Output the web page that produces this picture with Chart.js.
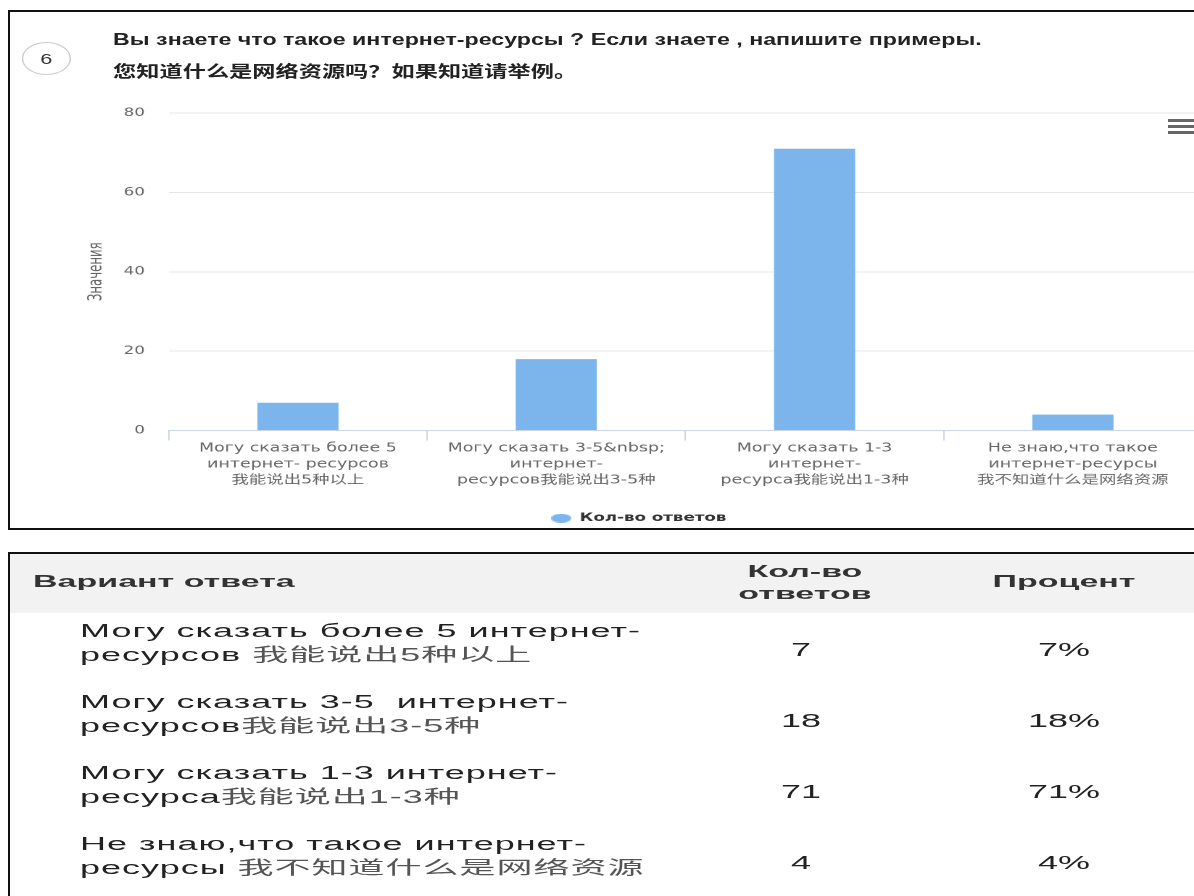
<!DOCTYPE html>
<html>
<head>
<meta charset="utf-8">
<script src="https://cdn.jsdelivr.net/npm/chart.js@4.4.1/dist/chart.umd.min.js"></script>
<style>
html, body { margin: 0; padding: 0; background: #fff; width: 1194px; height: 896px; overflow: hidden; }
.panel { position: absolute; left: 8px; width: 1200px; border: 2px solid #111; z-index: 5; }
#panel1 { top: 10px; height: 516px; }
#panel2 { top: 552px; height: 400px; }
#headBg { position: absolute; left: 10px; top: 554px; width: 1190px; height: 59px; background: #f2f2f2; }
#menu { position: absolute; left: 1168px; top: 119px; width: 30px; }
#menu div { height: 3px; background: #666; margin-bottom: 3px; }
.wrap { position: absolute; left: 0; top: 0; transform-origin: 0 0; }
#wrap1 { width: 830px; height: 540px; transform: scaleX(1.45); }
#wrap2 { width: 600px; height: 896px; transform: scaleX(2); font-family: "Liberation Sans", Arial, "Noto Sans CJK SC", sans-serif; color: #222; }
#num { position: absolute; left: 15px; top: 42px; width: 34px; height: 33px; box-sizing: border-box; border: 1px solid #ccc; border-radius: 50%;
       font: 15px "Liberation Sans", Arial, sans-serif; text-align: center; line-height: 31px; color: #333; }
#question { position: absolute; left: 78px; top: 24px; font: bold 16px "Liberation Sans", Arial, "Noto Sans CJK SC", sans-serif; line-height: 32px; color: #222; white-space: nowrap; }
#chartBox { position: absolute; left: 51.5px; top: 0; }
.th { position: absolute; font-weight: bold; font-size: 17px; white-space: nowrap; color: #333; }
.cell { position: absolute; font-size: 18px; white-space: nowrap; }
.cjk { color: #555; }
</style>
</head>
<body>
<div id="headBg"></div>
<div id="panel1" class="panel"></div>
<div id="panel2" class="panel"></div>
<div id="menu"><div></div><div></div><div></div></div>

<div id="wrap1" class="wrap">
  <div id="num">6</div>
  <div id="question">Вы знаете что такое интернет-ресурсы ? Если знаете , напишите примеры.<br>您知道什么是网络资源吗？如果知道请举例。</div>
  <div id="chartBox"><canvas id="chart1" width="777" height="534"></canvas></div>
</div>

<div id="wrap2" class="wrap"></div>

<script>
// answer options as printed under the bars
var categories = [
    ['Могу сказать более 5', 'интернет- ресурсов', '我能说出5种以上'],
    ['Могу сказать 3-5&nbsp;', 'интернет-', 'ресурсов我能说出3-5种'],
    ['Могу сказать 1-3', 'интернет-', 'ресурса我能说出1-3种'],
    ['Не знаю,что такое', 'интернет-ресурсы', '我不知道什么是网络资源']
];
// same options as written in the table rows
var optionTexts = [
    ['Могу сказать более 5 интернет-', 'ресурсов 我能说出5种以上'],
    ['Могу сказать 3-5\u00a0 интернет-', 'ресурсов我能说出3-5种'],
    ['Могу сказать 1-3 интернет-', 'ресурса我能说出1-3种'],
    ['Не знаю,что такое интернет-', 'ресурсы 我不知道什么是网络资源']
];
var answerCounts = [7, 18, 71, 4];
var percents = [7, 18, 71, 4];
var yTicks = [0, 20, 40, 60, 80];

var seriesColor = '#7cb5ec';

// flat legend marker
var legendDot = document.createElement('canvas');
legendDot.width = 14;
legendDot.height = 9;
var dctx = legendDot.getContext('2d');
dctx.fillStyle = seriesColor;
dctx.beginPath();
dctx.ellipse(7, 4.5, 7, 4.5, 0, 0, Math.PI * 2);
dctx.fill();

var tickFont = 'DejaVu Sans, "Noto Sans CJK SC", sans-serif';

var ctx = document.getElementById('chart1').getContext('2d');
var myChart = new Chart(ctx, {
    type: 'bar',
    data: {
        labels: categories,
        datasets: [{
            label: 'Кол-во ответов',
            data: answerCounts,
            backgroundColor: seriesColor,
            barPercentage: 0.314,
            categoryPercentage: 1
        }]
    },
    options: {
        responsive: false,
        animation: false,
        devicePixelRatio: 2,
        layout: { padding: { top: 113, left: 0, right: 0, bottom: 0 } },
        plugins: {
            tooltip: { enabled: false },
            legend: {
                position: 'bottom',
                labels: {
                    usePointStyle: true,
                    pointStyle: legendDot,
                    pointStyleWidth: 14,
                    padding: 10,
                    color: '#333',
                    font: { family: tickFont, size: 11.5, weight: 'bold' }
                }
            }
        },
        scales: {
            x: {
                grid: { offset: true, drawOnChartArea: false, drawTicks: true, tickLength: 10, color: '#ccd6eb' },
                border: { color: '#ccd6eb' },
                ticks: {
                    color: '#666',
                    padding: 0,
                    maxRotation: 0,
                    autoSkip: false,
                    font: { family: tickFont, size: 12, lineHeight: 16 / 12 }
                },
                afterFit: function(scale){ scale.height = 72; }
            },
            y: {
                min: 0,
                max: 80,
                afterBuildTicks: function(scale){
                    scale.ticks = yTicks.map(function(v){ return { value: v }; });
                },
                ticks: { color: '#666', padding: 16.5, font: { family: tickFont, size: 11.5 } },
                grid: {
                    drawTicks: false,
                    color: function(c){ return c.tick && c.tick.value === 0 ? 'rgba(0,0,0,0)' : '#e6e6e6'; }
                },
                border: { display: false },
                title: {
                    display: true,
                    text: 'Значения',
                    color: '#666',
                    padding: { top: 6.7, bottom: 0 },
                    font: { family: '"DejaVu Sans Condensed", DejaVu Sans, sans-serif', size: 13 }
                },
                afterFit: function(scale){ scale.width = 64.4; }
            }
        }
    }
});

// answers table
function addText(cls, html, left, y, width, lineH, align){
    var el = document.createElement('div');
    el.className = cls;
    el.innerHTML = html;
    el.style.left = left + 'px';
    el.style.top = y + 'px';
    el.style.lineHeight = lineH + 'px';
    if(width){
        el.style.width = width + 'px';
        el.style.textAlign = align;
    }
    document.getElementById('wrap2').appendChild(el);
    return el;
}

// chinese part of a line gets its own lighter span
function appendLine(el, text){
    var parts = text.split(/([\u4e00-\u9fff][\u4e00-\u9fff0-9\-]*)/);
    for(var k = 0; k < parts.length; k++){
        if(!parts[k]) continue;
        if(/[\u4e00-\u9fff]/.test(parts[k])){
            var s = document.createElement('span');
            s.className = 'cjk';
            s.textContent = parts[k];
            el.appendChild(s);
        } else {
            el.appendChild(document.createTextNode(parts[k]));
        }
    }
}

addText('th', 'Вариант ответа', 16.5, 570, 0, 24);
addText('th', 'Кол-во<br>ответов', 352.5, 561, 100, 22, 'center');
addText('th', 'Процент', 482, 570, 100, 24, 'center');

for(var i = 0; i < optionTexts.length; i++){
    var rowTop = 619 + 71 * i;
    var el = addText('cell', '', 40, rowTop, 0, 24);
    appendLine(el, optionTexts[i][0]);
    el.appendChild(document.createElement('br'));
    appendLine(el, optionTexts[i][1]);
    el.style.letterSpacing = '0.5px';
    addText('cell', String(answerCounts[i]), 350.5, rowTop + 19, 100, 24, 'center');
    addText('cell', percents[i] + '%', 482, rowTop + 19, 100, 24, 'center');
}
</script>
</body>
</html>
